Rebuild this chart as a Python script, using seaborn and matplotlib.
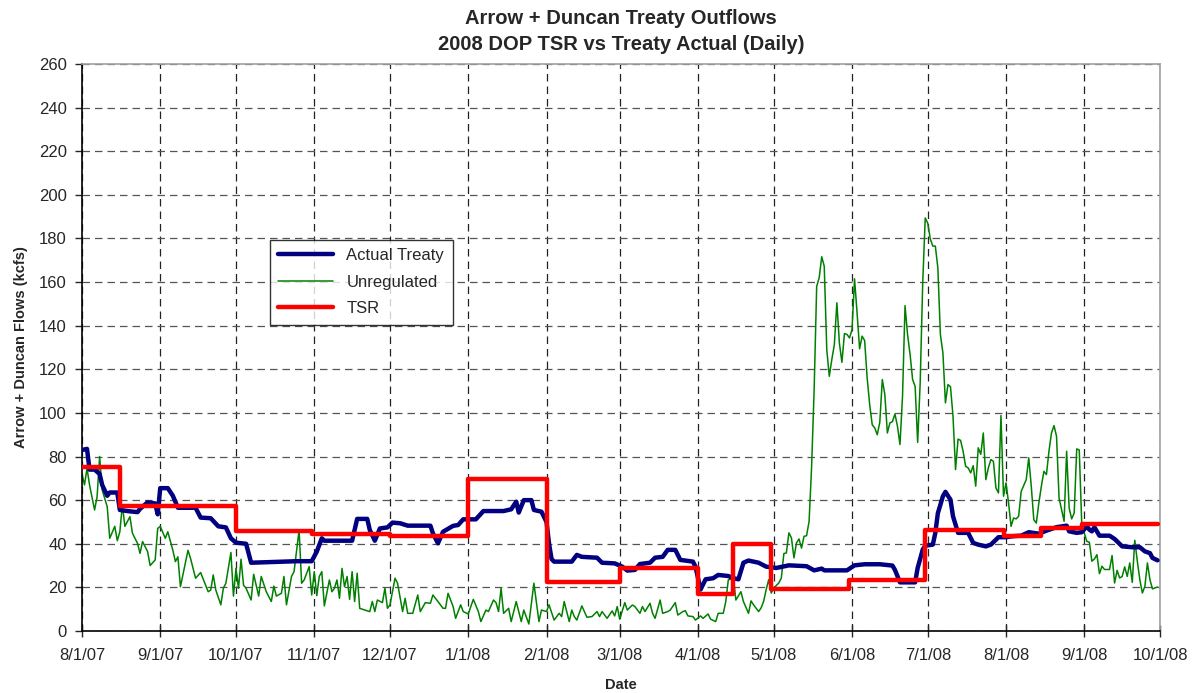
import pandas as pd
import numpy as np
import matplotlib
matplotlib.use('Agg')
import matplotlib.pyplot as plt
import matplotlib.dates as mdates
import seaborn as sns

# 数据: 距 2007-08-01 的天数 + 对应流量 (kcfs)
start_date = '2007-08-01'

actual_days = [0, 2, 3, 5, 7, 8, 10, 11, 14, 15, 18, 22, 23, 26, 29, 30, 31, 34, 36, 38,
               45, 47, 51, 54, 57, 59, 61, 65, 67, 85, 91, 93, 95, 96, 107, 109, 113, 114,
               116, 118, 121, 123, 126, 129, 138, 139, 141, 143, 147, 149, 151, 156, 159,
               167, 170, 172, 173, 175, 178, 179, 182, 184, 185, 186, 187, 194, 196, 198,
               204, 206, 211, 214, 216, 219, 221, 225, 227, 230, 232, 235, 237, 242, 243,
               245, 247, 250, 252, 256, 258, 260, 262, 264, 268, 271, 275, 280, 287, 290,
               293, 294, 303, 306, 310, 316, 321, 322, 324, 330, 331, 333, 334, 337, 338,
               339, 341, 342, 344, 345, 347, 351, 353, 355, 358, 360, 363, 366, 369, 372,
               375, 379, 382, 386, 390, 391, 394, 396, 398, 399, 400, 401, 403, 407, 409,
               412, 416, 419, 421, 423, 424, 426]
actual_vals = [83, 83.5, 74, 74, 72, 67, 62, 63.5, 63.5, 55.5, 55, 54.5, 56, 59, 58.5, 53.5,
               65.5, 65.5, 62, 56.5, 56.5, 52, 51.7, 48, 47.5, 42.5, 40.5, 40, 31.3, 32, 32,
               36.4, 42.5, 41.4, 41.4, 51.4, 51.4, 46.3, 41.4, 47, 47.5, 49.7, 49.4, 48.3,
               48.3, 44.8, 40.2, 45.5, 48.2, 48.6, 51.2, 51.2, 55, 55, 55.8, 59.3, 54.3, 60,
               60, 55.5, 54.7, 50, 40, 33, 31.8, 31.8, 34.9, 34, 33.6, 31.3, 31, 29.5, 27.7,
               28, 30.7, 31.3, 33.6, 34, 37.2, 37.2, 32.6, 31.8, 29.5, 19, 23.7, 24.2, 25.7,
               25.2, 24.2, 23.7, 31.3, 32.3, 31.3, 29.5, 28.9, 30.1, 29.7, 27.8, 28.6, 27.8,
               27.8, 30.1, 30.6, 30.6, 30, 28, 22.3, 22.3, 28.9, 37.3, 39.1, 39.6, 45, 54,
               61.8, 63.8, 60.2, 52.6, 45, 45, 40.4, 39.6, 38.8, 39.6, 43, 43, 43.5, 43.7,
               45.3, 44.6, 46, 47.6, 48.3, 45.7, 45, 45.3, 48, 46.5, 45.7, 47.6, 43.7, 43.7,
               42.2, 38.8, 38.4, 38.4, 36.5, 35.7, 33.5, 32.4]

unreg_days = [0, 1, 2, 3, 5, 6, 7, 8, 10, 11, 13, 14, 15, 16, 17, 19, 20, 22, 23, 24, 26, 27,
              29, 30, 31, 33, 34, 36, 37, 38, 39, 42, 43, 45, 47, 50, 51, 52, 53, 55, 56, 57,
              59, 60, 61, 62, 63, 64, 65, 67, 68, 70, 71, 73, 75, 76, 77, 79, 80, 81, 83, 84,
              86, 87, 88, 90, 91, 92, 93, 94, 95, 96, 98, 99, 100, 101, 102, 103, 104, 105,
              106, 107, 108, 109, 110, 112, 114, 115, 116, 117, 119, 120, 121, 122, 124, 125,
              127, 128, 129, 131, 133, 134, 136, 138, 139, 141, 143, 144, 145, 147, 148, 150,
              151, 153, 155, 157, 158, 160, 161, 163, 164, 165, 166, 167, 169, 170, 172, 173,
              174, 175, 177, 179, 181, 182, 184, 185, 187, 189, 190, 191, 193, 194, 195, 196,
              198, 200, 202, 204, 205, 206, 208, 210, 211, 212, 213, 215, 216, 218, 219, 221,
              222, 223, 225, 226, 227, 229, 230, 232, 233, 235, 236, 238, 239, 240, 242, 243,
              245, 246, 248, 249, 251, 252, 254, 255, 256, 258, 259, 261, 262, 264, 265, 266,
              268, 269, 270, 271, 272, 273, 274, 276, 277, 278, 279, 280, 281, 282, 283, 284,
              285, 286, 287, 288, 289, 290, 291, 292, 293, 294, 295, 296, 297, 298, 299, 300,
              301, 302, 303, 304, 305, 306, 307, 308, 309, 310, 311, 312, 313, 314, 315, 316,
              317, 318, 319, 320, 321, 322, 323, 324, 325, 326, 327, 328, 329, 330, 331, 332,
              333, 334, 335, 336, 337, 338, 339, 340, 341, 342, 343, 344, 345, 346, 347, 348,
              349, 350, 351, 352, 353, 354, 355, 356, 357, 358, 359, 360, 361, 362, 363, 364,
              365, 366, 367, 368, 369, 370, 371, 372, 373, 374, 375, 376, 377, 378, 379, 380,
              381, 382, 383, 384, 385, 386, 387, 388, 389, 390, 391, 392, 393, 394, 395, 396,
              397, 398, 399, 400, 401, 402, 403, 404, 405, 406, 407, 408, 409, 410, 411, 412,
              413, 414, 415, 416, 417, 418, 419, 420, 421, 422, 423, 424, 426]
unreg_vals = [72, 67, 74.6, 67, 55.5, 61.6, 80, 64.7, 57, 42.5, 48, 41.4, 45.5, 57.8, 48, 52.4,
              44.8, 40.2, 35.6, 41, 36.4, 30, 32.6, 47, 48, 42.5, 45.5, 37, 31.8, 34, 20.3, 37,
              33.3, 24.2, 26.8, 18, 18.8, 25.7, 18.8, 12, 19.6, 21.9, 36, 16, 28.7, 19.6, 32.9,
              21, 19.6, 14.2, 26, 16, 25, 18, 13.5, 20.6, 16, 17.3, 25, 12, 25, 27.2, 46.3,
              21.9, 23.4, 29.5, 16.5, 27.2, 16.2, 25, 27.2, 11.5, 23.4, 18, 19.6, 23.4, 15,
              28.7, 20.3, 25, 14.5, 27.2, 13.5, 26.5, 10.4, 9.6, 8.9, 13.5, 8.9, 14.2, 13,
              19.6, 10.4, 12, 24.2, 21.9, 8.9, 15, 8.1, 8.1, 16.5, 8.9, 13, 12.7, 16.5, 13.5,
              10.4, 10.4, 17.3, 11.2, 5.8, 12, 8.9, 7.8, 14.5, 8.9, 4.3, 9.6, 8.9, 14.2, 13,
              8.9, 19.6, 8.1, 10.4, 4.3, 13.5, 8.9, 4.3, 9.6, 3.2, 21.9, 4.3, 9.6, 8.9, 12, 5,
              8.1, 6.6, 13.5, 4.3, 9.6, 6.6, 5, 11.5, 6.3, 6.6, 8.9, 6.6, 8.9, 5.8, 9.2, 6.9,
              11.2, 5.4, 13, 9.6, 11.9, 11.2, 8.1, 11.2, 8.9, 12.7, 8.1, 5.8, 14.2, 8.1, 8.9,
              9.6, 13, 7.3, 8.9, 9.3, 6.9, 6.6, 5, 6.9, 5.8, 7.8, 5.4, 4.3, 8.1, 8.1, 13.5,
              23.4, 24.2, 14.2, 18, 13.5, 8.1, 13.8, 12, 8.9, 10.6, 13.6, 19, 23.5, 17.4, 19.7,
              22, 24.3, 35.5, 35.8, 45, 42.7, 33.5, 40.4, 42.2, 38, 43.4, 43.7, 50.3, 75.5,
              110.7, 158, 162, 171.6, 167.3, 129, 116.8, 124.5, 131.3, 150.5, 132, 123.2,
              136.4, 136, 134.4, 138.2, 161.5, 145.9, 129.4, 135.2, 133.2, 116, 103.8, 94.6,
              93.1, 90, 95.7, 115.3, 108.4, 90.8, 95.4, 96, 99.5, 93.9, 85.5, 107.6, 149.2,
              135.9, 126.8, 115.3, 112.2, 86.5, 113.8, 159.6, 189.4, 187, 179.8, 176.5, 176.5,
              166.5, 136, 127.5, 104.6, 113, 112, 98.5, 74, 88, 87.4, 82.4, 75.5, 74.8, 72.5,
              75.8, 66.4, 84, 81, 90.8, 69.4, 74.8, 78.6, 77.8, 65.6, 63.3, 98.8, 61.8, 67.9,
              58.7, 48, 51.8, 51.4, 52.6, 64, 66.7, 69.4, 79.4, 66.4, 51, 49.5, 58.7, 66.4,
              73.2, 71.7, 82.4, 90.8, 94.2, 89.3, 61, 55.7, 50.3, 82.4, 56.4, 51.4, 54.1, 83.5,
              83, 48.8, 45, 41.1, 40.7, 32, 33, 35, 26.3, 29.7, 28.2, 28.2, 28.2, 34.6, 22,
              27.8, 24.3, 25, 29.4, 25, 31.2, 22.3, 41.6, 32, 23.5, 17.4, 20.5, 31.2, 23.5,
              19.3, 20.2]

# TSR 为阶梯线: 每段起始天数和数值
tsr_days = [0, 15, 61, 91, 122, 153, 184, 213, 244, 258, 273, 304, 334, 365, 380, 396, 426]
tsr_vals = [75, 57.3, 45.9, 44.3, 43.6, 69.6, 22.6, 28.7, 16.8, 40, 19.3, 23.5, 46.2, 43.7,
            47, 49.2, 49.2]


def to_df(days, vals):
    dates = pd.Timestamp(start_date) + pd.to_timedelta(days, unit='D')
    return pd.DataFrame({'date': dates, 'flow': vals})


def main():
    sns.set_style('white')
    plt.rcParams['font.family'] = ['Liberation Sans', 'DejaVu Sans']

    fig = plt.figure(figsize=(12, 6.93), dpi=100)
    ax = fig.add_axes([0.0683, 0.0895, 0.8984, 0.8181])

    actual_df = to_df(actual_days, actual_vals)
    unreg_df = to_df(unreg_days, unreg_vals)
    tsr_df = to_df(tsr_days, tsr_vals)

    sns.lineplot(data=actual_df, x='date', y='flow', ax=ax, color='#000080', linewidth=3.2,
                 label='Actual Treaty', zorder=3)
    sns.lineplot(data=unreg_df, x='date', y='flow', ax=ax, color='#008000', linewidth=1.1,
                 label='Unregulated', zorder=2)
    sns.lineplot(data=tsr_df, x='date', y='flow', ax=ax, color='#FF0000', linewidth=3.2,
                 label='TSR', drawstyle='steps-post', zorder=4)

    # 坐标轴范围和刻度
    ax.set_xlim(pd.Timestamp('2007-08-01'), pd.Timestamp('2008-10-01'))
    ax.set_ylim(0, 260)
    ax.set_yticks(np.arange(0, 261, 20))
    ax.xaxis.set_major_locator(mdates.MonthLocator())
    ax.xaxis.set_major_formatter(mdates.DateFormatter('%-m/%-d/%y'))

    ax.grid(True, axis='y', color='#555555', linestyle=(0, (6, 4)), linewidth=0.9)
    ax.grid(True, axis='x', color='#222222', linestyle=(0, (6, 4)), linewidth=0.9)

    for side in ['left', 'bottom']:
        ax.spines[side].set_color('black')
        ax.spines[side].set_linewidth(1.2)
    for side in ['top', 'right']:
        ax.spines[side].set_color('#a0a0a0')
        ax.spines[side].set_linewidth(1.2)

    ax.tick_params(axis='y', direction='out', length=5, width=1, labelsize=12, pad=6,
                   left=True)
    ax.tick_params(axis='x', direction='inout', length=8, width=1, labelsize=12, pad=8,
                   bottom=True)

    ax.set_xlabel('Date', fontsize=10.5, fontweight='bold', labelpad=11)
    ax.set_ylabel('Arrow + Duncan Flows (kcfs)', fontsize=10.5, fontweight='bold', labelpad=8)
    ax.set_title('Arrow + Duncan Treaty Outflows\n2008 DOP TSR vs Treaty Actual (Daily)',
                 fontsize=14.5, fontweight='bold', pad=10, linespacing=1.5)

    leg = ax.legend(loc='upper left', bbox_to_anchor=(0.1665, 0.705), fontsize=12,
                    frameon=True, fancybox=False, edgecolor='black', handlelength=3.3,
                    borderpad=0.5, labelspacing=0.7)
    leg.get_frame().set_linewidth(1.0)

    plt.savefig('out.png', dpi=100)


if __name__ == '__main__':
    main()
